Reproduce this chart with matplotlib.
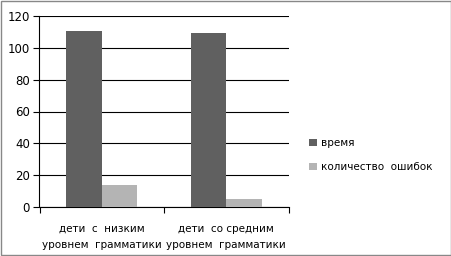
import numpy as np
import matplotlib.pyplot as plt
from matplotlib.patches import Rectangle

categories = ['дети  с  низким\nуровнем  грамматики', 'дети  со средним\nуровнем  грамматики']
series_names = ['время', 'количество  ошибок']
vremya = [110.5, 109.3]
oshibki = [13.7, 4.8]
yticks = [0, 20, 40, 60, 80, 100, 120]

plt.rcParams['font.family'] = ['DejaVu Sans']
fig = plt.figure(figsize=(4.52, 2.56), dpi=100)
ax = fig.add_axes([39.5/452, 1 - 207/256, 249/452, 191/256])

x = np.arange(len(categories))
w = 0.285
ax.bar(x - w/2, vremya, w, color='#606060', label=series_names[0], zorder=3)
ax.bar(x + w/2, oshibki, w, color='#b4b4b4', label=series_names[1], zorder=3)

ax.set_xlim(-0.5, 1.5)
ax.set_ylim(0, 120)
ax.set_yticks(yticks)
ax.set_xticks([-0.5, 0.5, 1.5])
ax.set_xticklabels([])
ax.set_xticks(x, minor=True)
ax.set_xticklabels(categories, minor=True, fontsize=7.5, linespacing=1.75)
ax.tick_params(axis='x', which='minor', length=0, pad=12)
ax.tick_params(axis='x', which='major', length=4, width=0.8, direction='out')
ax.tick_params(axis='y', length=4, width=0.8, direction='out', labelsize=8.5, pad=3)
ax.yaxis.grid(True, color='black', linewidth=0.8, zorder=0)
for s in ['top', 'right']:
    ax.spines[s].set_visible(False)
ax.spines['left'].set_linewidth(0.8)
ax.spines['bottom'].set_linewidth(0.8)

fig.legend(loc='upper left', bbox_to_anchor=(300/452, 1 - 129/256), frameon=False,
           fontsize=7.5, handlelength=0.7, handleheight=0.7, labelspacing=1.3,
           handletextpad=0.4)

fig.patches.append(Rectangle((0.002, 0.004), 0.995, 0.992, transform=fig.transFigure,
                             fill=False, edgecolor='#888888', linewidth=1.0))

fig.savefig('out.png', dpi=100)
